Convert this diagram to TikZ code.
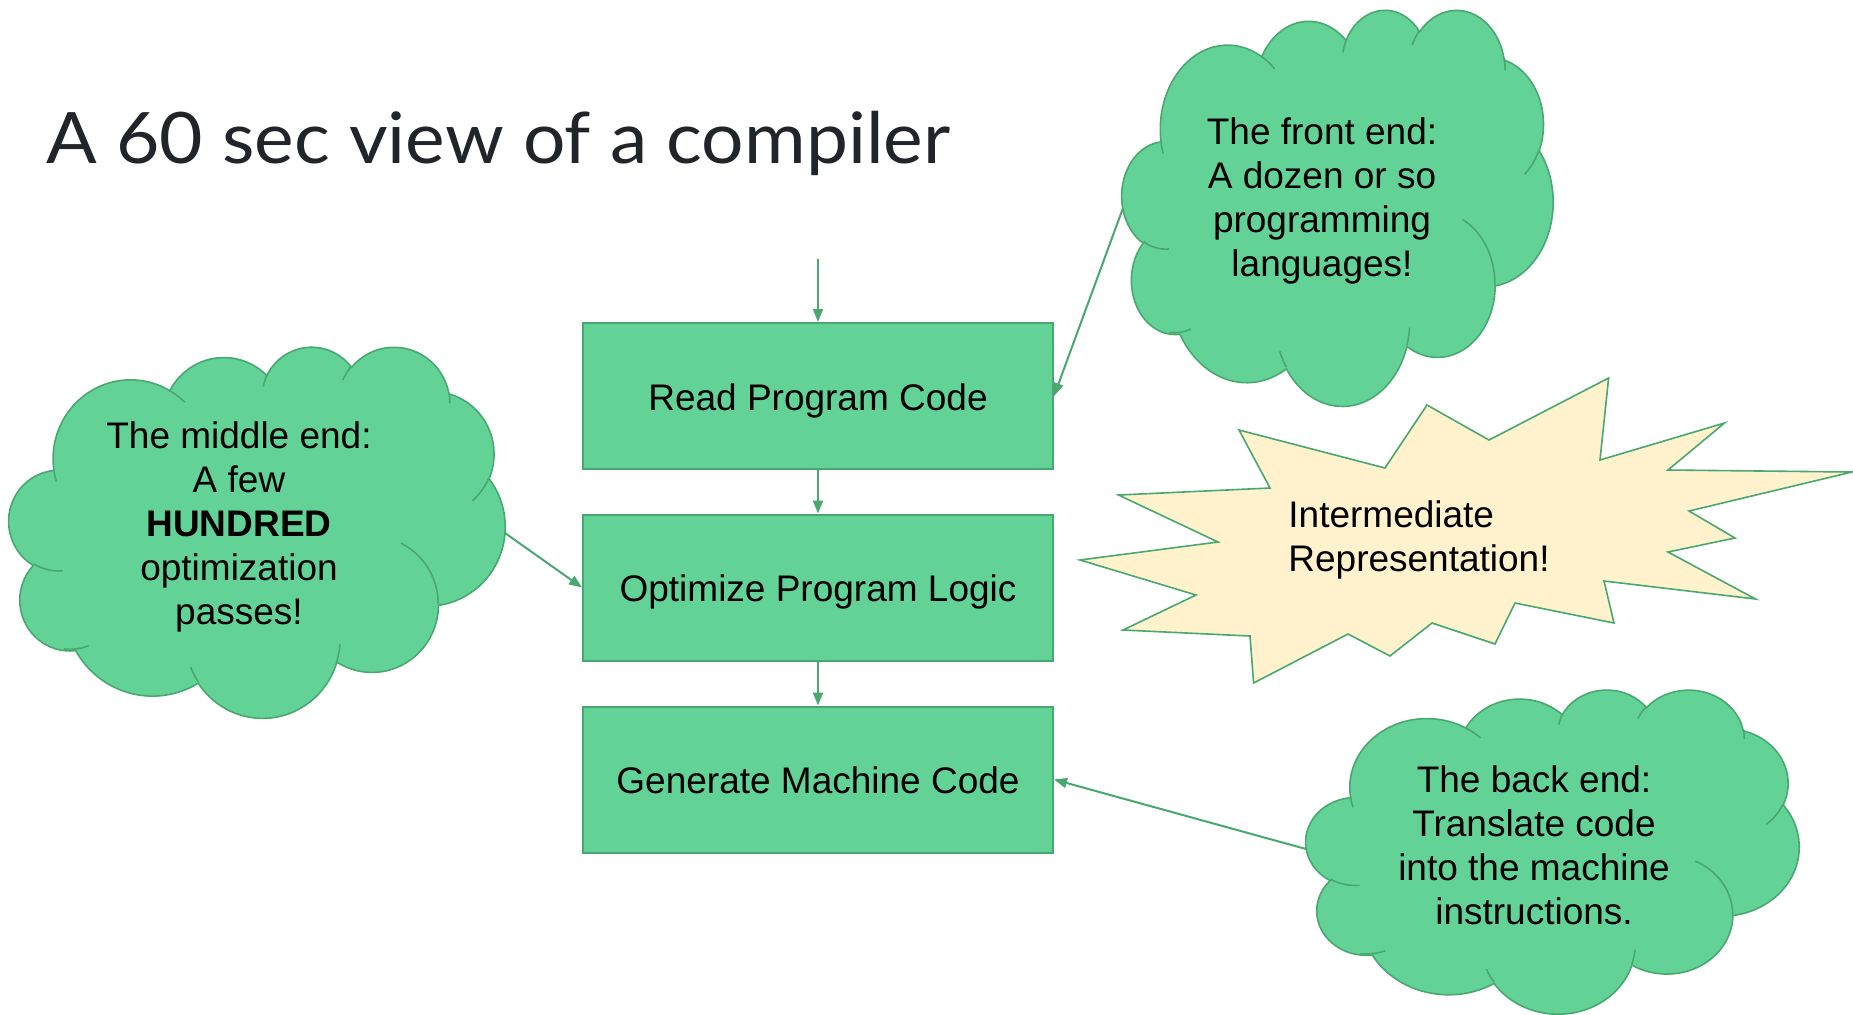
\documentclass[tikz,border=0pt]{standalone}
\usepackage{fontspec}
\setmainfont{Liberation Sans}
\newfontfamily\titlefont[FakeStretch=1.055]{Lato}
\usetikzlibrary{arrows.meta}

\definecolor{leaf}{RGB}{99,210,151}
\definecolor{leafedge}{RGB}{72,168,112}
\definecolor{cream}{RGB}{255,242,204}
\definecolor{ink}{RGB}{33,37,41}

\newcommand\bodyfont{\fontsize{18.5}{22}\selectfont}

\tikzset{
  stage/.style={draw=leafedge, fill=leaf, line width=1pt, minimum width=235pt,
    minimum height=73pt, inner sep=0pt, text height=16pt, text depth=2pt, font=\bodyfont},
  flow/.style={draw=leafedge, line width=1pt, -{Triangle[length=6.5pt,width=5pt]}},
  puff/.style={draw=leafedge, fill=leaf, line width=0.8pt},
  seam/.style={draw=leafedge, line width=0.8pt},
  burst/.style={draw=leafedge, fill=cream, line width=0.8pt},
  note/.style={align=center, inner sep=0pt, font=\bodyfont},
}

% one bump of the cloud: x radius, y radius, start and sweep as slide angles
\newcommand\bump[4]{\pgfextra{%
    \pgfmathsetmacro\ba{atan2(#1*sin(#3),#2*cos(#3))}%
    \pgfmathsetmacro\bb{atan2(#1*sin(#3+#4),#2*cos(#3+#4))}%
    \pgfmathsetmacro\bd{\bb-\ba}%
    \pgfmathsetmacro\bd{\bd+360*round((#4-\bd)/360)}%
    \xdef\bumpa{\ba}\xdef\bumpd{\bd}}%
  arc[start angle=\bumpa, delta angle=\bumpd, x radius=#1, y radius=#2]}

% cloud in the box x, y, width, height
\newcommand\drawcloud[4]{%
  \begin{scope}[shift={(#1,#2)}, xscale=#3/432, yscale=#4/432]
    \path[puff] (39,143.7)
      \bump{67.53}{91.90}{-190.4875}{123.7805}
      \bump{53.33}{72.67}{-144.1024}{89.9452}
      \bump{43.65}{59.45}{-145.8079}{99.7230}
      \bump{48.57}{65.95}{-130.9861}{117.2417}
      \bump{53.33}{72.73}{-78.7089}{109.0269}
      \bump{67.75}{92.20}{-46.2673}{130.2690}
      \bump{57.85}{78.67}{0.6250}{114.0333}
      \bump{67.52}{92.15}{22.4516}{115.1726}
      \bump{77.20}{105.43}{66.2426}{75.7110}
      \bump{43.60}{59.18}{-274.9421}{146.7356}
      \bump{43.45}{59.45}{-246.8285}{152.5189} -- cycle;
    \path[seam]
      (46.93,261.77) \bump{43.45}{59.45}{86.7420}{26.4295}
      (69.28,348.99) \bump{43.60}{59.18}{73.6105}{21.6397}
      (164.78,390.90) \bump{67.52}{92.15}{137.6242}{14.0735}
      (288.27,347.51) \bump{67.52}{92.15}{6.4533}{15.9984}
      (341.29,229.54) \bump{57.85}{78.67}{-70.2924}{70.9174}
      (417.98,153.54) \bump{53.33}{72.73}{30.3180}{27.7515}
      (383.24,54.26) \bump{48.57}{65.95}{-13.7443}{14.8589}
      (290.78,39.52) \bump{48.57}{65.95}{-149.1815}{18.1954}
      (221.41,47.20) \bump{43.65}{59.45}{-163.4943}{17.6864}
      (140.00,51.92) \bump{67.53}{91.90}{-66.7070}{12.3194}
      (41.27,157.89) \bump{67.53}{91.90}{157.6544}{11.8582};
  \end{scope}}

\begin{document}
\begin{tikzpicture}[x=0.5pt, y=-0.5pt]
  \path[fill=white, use as bounding box] (0,0) rectangle (1853,1014);

  \node[anchor=base west, inner sep=0pt, text=ink, font=\titlefont\fontsize{35.5}{40}\selectfont]
    (title) at (46,163) {A 60 sec view of a compiler};

  % the three stages
  \node[stage] (read) at (818,396) {Read Program Code};
  \node[stage] (opt) at (818,587.5) {Optimize Program Logic};
  \node[stage] (gen) at (818,779.5) {Generate Machine Code};

  \coordinate (entry) at (818,259);
  \draw[flow] (entry) -- (read);
  \draw[flow] (read) -- (opt);
  \draw[flow] (opt) -- (gen);

  % clouds
  \drawcloud{1122}{9}{431}{396}
  \drawcloud{9}{346}{496}{371}
  \drawcloud{1306}{689}{493}{324}

  \node[note] (front) at (1322,200.6) {The front end:\\A dozen or so\\programming\\languages!};
  \node[note] (middle) at (239,526.6) {The middle end:\\A few\\\textbf{HUNDRED}\\optimization\\passes!};
  \node[note] (back) at (1534,845.5) {The back end:\\Translate code\\into the machine\\instructions.};

  \coordinate (front-tail) at (1123,208);
  \coordinate (middle-tail) at (505,533);
  \coordinate (back-tail) at (1306,849);
  \draw[flow] (front-tail) -- (read.east);
  \draw[flow] (middle-tail) -- (opt.west);
  \draw[flow] (back-tail) -- (gen.east);

  % starburst
  \draw[burst] (1080,560) -- (1218,542) -- (1118.5,495) -- (1270,488) -- (1239,430)
    -- (1385,468) -- (1427,405) -- (1489,440) -- (1608.6,378) -- (1600,460)
    -- (1724.5,423) -- (1668,470) -- (1852,472) -- (1689,511) -- (1735,538)
    -- (1668,552) -- (1755.5,599) -- (1604,581) -- (1614,623) -- (1515,603)
    -- (1495,644) -- (1432,623) -- (1390,656) -- (1348,634) -- (1253.6,683)
    -- (1250,636) -- (1123,630) -- (1196,595) -- cycle;
  \node[note, align=left, anchor=west] (ir) at (1288,539.7) {Intermediate\\Representation!};
\end{tikzpicture}
\end{document}
